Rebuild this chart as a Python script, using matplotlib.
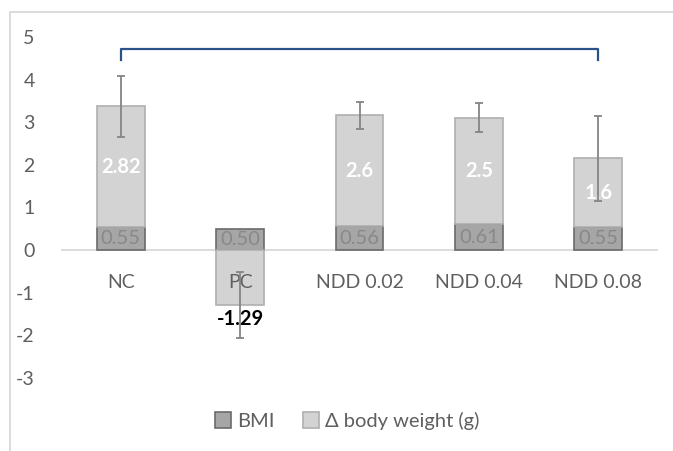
import numpy as np
import matplotlib.pyplot as plt
from matplotlib.patches import Rectangle

groups = ["NC", "PC", "NDD 0.02", "NDD 0.04", "NDD 0.08"]
bmi = [0.55, 0.50, 0.56, 0.61, 0.55]
dbw = [2.82, -1.29, 2.6, 2.5, 1.6]
dbw_err = [0.71, 0.78, 0.32, 0.33, 1.0]
dbw_labels = ["2.82", "-1.29", "2.6", "2.5", "1.6"]
bmi_labels = ["0.55", "0.50", "0.56", "0.61", "0.55"]
yticks = [-3, -2, -1, 0, 1, 2, 3, 4, 5]

plt.rcParams['font.family'] = ['Lato', 'DejaVu Sans']
plt.rcParams['axes.unicode_minus'] = False

fig = plt.figure(figsize=(6.73, 4.51), dpi=100)
ax = fig.add_axes([61 / 673, 1 - 378 / 451, 597 / 673, 341 / 451])

x = np.arange(len(groups))
bmi = np.array(bmi)
dbw = np.array(dbw)
# excel stacks negatives from zero, positives on top of the positive series
bottom = np.where(dbw >= 0, bmi, 0)

ax.bar(x, bmi, width=0.4, color='#a6a6a6', edgecolor='#6b6b6b', linewidth=1.2, zorder=2, label='BMI')
ax.bar(x, dbw, bottom=bottom, width=0.4, color='#d3d3d3', edgecolor='#afafaf', linewidth=1.2,
       zorder=2, label='Δ body weight (g)')
ax.errorbar(x, bottom + dbw, yerr=dbw_err, fmt='none', ecolor='#858585', elinewidth=1.3,
            capsize=2.9, capthick=1.3, zorder=5)

for i in range(len(groups)):
    ax.text(x[i], bmi[i] / 2, bmi_labels[i], ha='center', va='center', fontsize=14.5,
            color='#888888', zorder=3)
    if dbw[i] >= 0:
        ax.text(x[i], bottom[i] + dbw[i] / 2, dbw_labels[i], ha='center', va='center',
                fontsize=14.5, color='white', fontweight='bold', zorder=3)
    else:
        ax.text(x[i], dbw[i] - 0.1, dbw_labels[i], ha='center', va='top',
                fontsize=14.5, color='black', fontweight='bold', zorder=3)
    ax.text(x[i], -0.75, groups[i], ha='center', va='center', fontsize=14,
            color='#5f5f5f', zorder=3)

ax.axhline(0, color='#d9d9d9', lw=1.3, zorder=1)

# bracket
ax.plot([0, 0, 4, 4], [4.47, 4.71, 4.71, 4.47], color='#2b5288', lw=1.6, zorder=4,
        solid_joinstyle='round')

ax.set_xlim(-0.5, 4.5)
ax.set_ylim(-3, 5)
ax.set_yticks(yticks)
ax.set_xticks([])
ax.tick_params(axis='y', length=0, pad=19, labelsize=14, labelcolor='#5f5f5f')
for s in ax.spines.values():
    s.set_visible(False)

fig.legend(loc='center', bbox_to_anchor=(0.516, 1 - 421 / 451), ncol=2, frameon=False,
           fontsize=14.5, labelcolor='#5f5f5f', handlelength=0.8, handleheight=0.8,
           handletextpad=0.3, columnspacing=1.4)

fig.patches.append(Rectangle((9.5 / 673, -0.05), 1.1, 1 - 12 / 451 + 0.05, transform=fig.transFigure,
                             fill=False, edgecolor='#d9d9d9', lw=1.3, zorder=0))

fig.savefig('out.png', dpi=100)
